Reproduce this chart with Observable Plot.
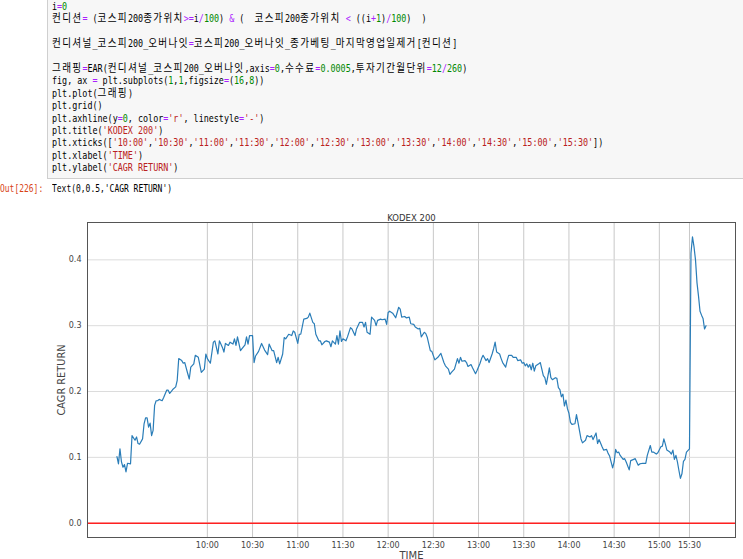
<!DOCTYPE html>
<html>
<head>
<meta charset="utf-8">
<script src="https://cdn.jsdelivr.net/npm/d3@7"></script>
<script src="https://cdn.jsdelivr.net/npm/@observablehq/plot@0.6"></script>
<style>
  html, body { margin: 0; padding: 0; background: #fff; }
  body { width: 743px; height: 559px; overflow: hidden; position: relative; }
  #cellbox { position: absolute; left: 47px; top: -10px; width: 710px; height: 187px;
             background: #f7f7f7; border: 1px solid #cfcfcf; }
  pre.code { position: absolute; left: 52px; top: 1px; margin: 0;
             font-family: "DejaVu Sans Mono", "Noto Sans CJK KR", monospace;
             font-size: 10.1px; line-height: 12.4px; color: #000;
             transform: scaleX(0.832); transform-origin: 0 0; }
  .k { font-size: 11.5px; letter-spacing: 1.6px; line-height: 0; }
  .o { color: #aa22ff; } .n { color: #008800; } .s { color: #ba2121; }
  .outline { position: absolute; top: 183px; margin: 0; font-family: "DejaVu Sans Mono", monospace;
             font-size: 10.1px; line-height: 12px; transform: scaleX(0.79); transform-origin: 0 0; white-space: pre; }
  #outp { left: 0; color: #d84315; }
  #outt { left: 52px; color: #000; }
  #chart { position: absolute; left: 0; top: 200px; }
</style>
</head>
<body>
<div id="cellbox"></div>
<pre class="code" id="code">i<span class="o">=</span><span class="n">0</span>
컨디션<span class="o">=</span> (코스피200종가위치<span class="o">&gt;=</span>i<span class="o">/</span><span class="n">100</span>) <span class="o">&amp;</span> (  코스피200종가위치 <span class="o">&lt;</span> ((i<span class="o">+</span><span class="n">1</span>)<span class="o">/</span><span class="n">100</span>)  )

컨디셔널_코스피200_오버나잇<span class="o">=</span>코스피200_오버나잇_종가베팅_마지막영업일제거[컨디션]

그래핑<span class="o">=</span>EAR(컨디셔널_코스피200_오버나잇,axis<span class="o">=</span><span class="n">0</span>,수수료<span class="o">=</span><span class="n">0.0005</span>,투자기간월단위<span class="o">=</span><span class="n">12</span><span class="o">/</span><span class="n">260</span>)
fig, ax <span class="o">=</span> plt.subplots(<span class="n">1</span>,<span class="n">1</span>,figsize<span class="o">=</span>(<span class="n">16</span>,<span class="n">8</span>))
plt.plot(그래핑)
plt.grid()
plt.axhline(y<span class="o">=</span><span class="n">0</span>, color<span class="o">=</span><span class="s">'r'</span>, linestyle<span class="o">=</span><span class="s">'-'</span>)
plt.title(<span class="s">'KODEX 200'</span>)
plt.xticks([<span class="s">'10:00'</span>,<span class="s">'10:30'</span>,<span class="s">'11:00'</span>,<span class="s">'11:30'</span>,<span class="s">'12:00'</span>,<span class="s">'12:30'</span>,<span class="s">'13:00'</span>,<span class="s">'13:30'</span>,<span class="s">'14:00'</span>,<span class="s">'14:30'</span>,<span class="s">'15:00'</span>,<span class="s">'15:30'</span>])
plt.xlabel(<span class="s">'TIME'</span>)
plt.ylabel(<span class="s">'CAGR RETURN'</span>)</pre>
<div class="outline" id="outp">Out[226]:</div>
<div class="outline" id="outt">Text(0,0.5,'CAGR RETURN')</div>
<div id="chart"></div>
<script>
// Hangul runs of the code cell are set a little larger (they are wider in the reference)
(function wrapHangul(root) {
  const walker = document.createTreeWalker(root, NodeFilter.SHOW_TEXT);
  const nodes = [];
  while (walker.nextNode()) nodes.push(walker.currentNode);
  for (const n of nodes) {
    const parts = n.nodeValue.split(/([\uAC00-\uD7A3]+)/);
    if (parts.length < 2) continue;
    const frag = document.createDocumentFragment();
    for (const p of parts) {
      if (!p) continue;
      if (/[\uAC00-\uD7A3]/.test(p)) {
        const s = document.createElement("span");
        s.className = "k"; s.textContent = p; frag.appendChild(s);
      } else frag.appendChild(document.createTextNode(p));
    }
    n.parentNode.replaceChild(frag, n);
  }
})(document.getElementById("code"));

// position on the categorical time axis (0 = 09:00, one step per minute; 380 = 15:30)
const pos = [0,1,2,3,4,5,6,7,9,10,12,13,14,15,17,18,19,20,21,22,23,24,25,26,27,28,30,31,33,34,35,37,39,40,41,43,44,45,47,48,49,51,52,54,56,58,59,60,
62,64,65,67,68,70,71,72,74,75,77,78,79,80,82,83,85,86,87,88,90,91,92,94,96,98,100,101,103,104,106,107,108,110,111,112,114,116,117,118,120,121,122,124,126,127,128,130,
131,132,134,135,136,138,139,141,142,143,145,146,147,148,149,150,152,153,155,156,158,159,161,163,164,165,166,168,169,171,172,173,175,176,178,179,180,181,183,185,187,188,189,191,
192,194,195,197,198,200,201,202,204,205,206,208,209,211,213,214,215,217,218,220,221,222,224,226,227,228,229,231,232,233,235,236,238,239,241,242,243,245,246,247,249,250,251,252,
254,255,256,258,259,260,262,263,265,266,268,269,270,271,272,273,274,275,276,277,278,280,281,282,283,284,285,286,287,288,289,291,292,293,294,295,296,297,298,299,300,301,302,304,
305,306,308,309,311,312,314,315,316,318,319,320,322,323,325,326,327,329,330,331,332,333,334,336,337,338,340,341,343,344,346,347,349,351,352,354,355,356,358,359,361,362,363,364,
365,367,368,369,370,371,372,373,374,375,376,377,378,380,381,382,383,384,385,386,387,388,389,390,391];
const ret = [0.101,0.090,0.113,0.093,0.085,0.089,0.078,0.091,0.090,0.133,0.126,0.131,0.121,0.120,0.128,0.151,0.160,0.160,0.146,0.152,0.133,0.141,0.179,0.186,0.186,0.188,0.186,0.191,0.202,0.202,0.197,0.203,0.207,0.217,0.250,0.247,0.243,0.244,0.227,0.219,0.237,0.242,0.255,0.252,0.229,0.234,0.257,0.250,
0.243,0.275,0.277,0.257,0.277,0.267,0.260,0.273,0.270,0.275,0.272,0.280,0.270,0.283,0.262,0.265,0.271,0.283,0.272,0.285,0.285,0.244,0.254,0.261,0.273,0.263,0.256,0.272,0.262,0.262,0.244,0.252,0.242,0.257,0.282,0.280,0.287,0.285,0.292,0.290,0.273,0.287,0.287,0.310,0.311,0.313,0.319,0.305,
0.303,0.287,0.277,0.277,0.271,0.276,0.277,0.275,0.268,0.277,0.272,0.285,0.272,0.292,0.276,0.280,0.277,0.283,0.297,0.295,0.285,0.295,0.305,0.305,0.298,0.305,0.290,0.287,0.313,0.308,0.300,0.308,0.310,0.309,0.310,0.302,0.320,0.322,0.319,0.312,0.328,0.325,0.313,0.314,
0.312,0.313,0.303,0.302,0.298,0.295,0.296,0.283,0.290,0.288,0.282,0.262,0.261,0.248,0.252,0.255,0.258,0.244,0.239,0.234,0.226,0.229,0.234,0.250,0.243,0.252,0.246,0.247,0.244,0.238,0.241,0.236,0.227,0.232,0.243,0.250,0.255,0.247,0.250,0.244,0.257,0.265,0.275,0.260,
0.257,0.250,0.244,0.237,0.247,0.255,0.255,0.252,0.252,0.247,0.248,0.243,0.244,0.239,0.242,0.237,0.241,0.233,0.243,0.231,0.239,0.242,0.244,0.234,0.224,0.221,0.211,0.223,0.236,0.221,0.218,0.221,0.220,0.206,0.203,0.192,0.196,0.178,0.187,0.174,0.167,0.153,0.150,0.151,
0.165,0.153,0.128,0.122,0.126,0.133,0.131,0.133,0.127,0.137,0.121,0.127,0.116,0.111,0.112,0.106,0.102,0.084,0.093,0.112,0.107,0.108,0.103,0.097,0.098,0.093,0.081,0.095,0.097,0.098,0.088,0.090,0.091,0.091,0.103,0.118,0.108,0.108,0.105,0.107,0.116,0.117,0.128,0.120,
0.111,0.108,0.105,0.111,0.097,0.103,0.093,0.080,0.068,0.075,0.094,0.097,0.108,0.113,0.410,0.435,0.420,0.400,0.365,0.345,0.322,0.316,0.311,0.295,0.300];

const tickLabels = ["10:00","10:30","11:00","11:30","12:00","12:30","13:00","13:30","14:00","14:30","15:00","15:30"];
const tickPos = [60,90,120,150,180,210,240,270,300,330,360,380];
const yTicks = [0, 0.1, 0.2, 0.3, 0.4];
const titleText = "KODEX 200";
const xLabel = "TIME";
const yLabel = "CAGR RETURN";

const rows = pos.map((p, i) => ({p, r: ret[i]}));
const x0 = d3.min(pos), x1 = d3.max(pos), xpad = (x1 - x0) * 0.05;
const y0 = Math.min(0, d3.min(ret)), y1 = d3.max(ret), ypad = (y1 - y0) * 0.05;

const chart = Plot.plot({
  width: 743, height: 359,
  marginLeft: 87, marginRight: 8, marginTop: 22, marginBottom: 22,
  style: {fontFamily: "DejaVu Sans", fontSize: "8px", color: "#444", background: "transparent", overflow: "visible"},
  x: {domain: [x0 - xpad, x1 + xpad], ticks: tickPos, tickFormat: d => tickLabels[tickPos.indexOf(d)], tickSize: 0, tickPadding: 5, label: null},
  y: {domain: [y0 - ypad, y1 + ypad], ticks: yTicks, tickFormat: d3.format(".1f"), tickSize: 0, tickPadding: 6, label: null},
  marks: [
    Plot.ruleX(tickPos, {stroke: "#c8c8c8", strokeWidth: 1}),
    Plot.ruleY(yTicks, {stroke: "#dcdcdc", strokeWidth: 1}),
    Plot.ruleY([0], {stroke: "#ff2020", strokeWidth: 1.4}),
    Plot.line(rows, {x: "p", y: "r", stroke: "#2a7db8", strokeWidth: 1.2}),
    Plot.frame({stroke: "#555", strokeWidth: 1}),
    Plot.text([titleText], {frameAnchor: "top", dy: -8, fontSize: 8.5, fill: "#333"}),
    Plot.text([yLabel], {frameAnchor: "left", textAnchor: "middle", dx: -26, rotate: -90, fontSize: 9.8, fill: "#444"}),
    Plot.text([xLabel], {frameAnchor: "bottom", dy: 21, fontSize: 10, fill: "#444"})
  ]
});
document.getElementById("chart").appendChild(chart);
</script>
</body>
</html>
